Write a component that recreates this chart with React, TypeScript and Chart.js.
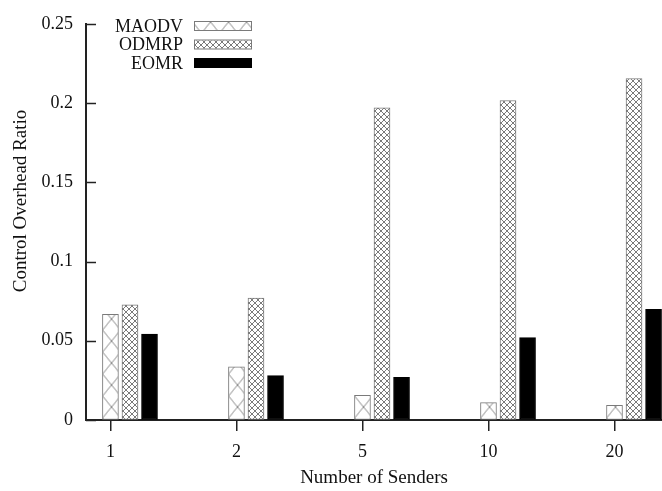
import React, { useEffect, useRef } from 'react';
import { Chart, registerables } from 'chart.js';

Chart.register(...registerables);

// ---- data ----
const categories = ['1', '2', '5', '10', '20'];
const seriesNames = ['MAODV', 'ODMRP', 'EOMR'];
const maodv = [0.0666, 0.0335, 0.0155, 0.011, 0.0093];
const odmrp = [0.0726, 0.077, 0.197, 0.2016, 0.2155];
const eomr = [0.0542, 0.028, 0.027, 0.052, 0.0699];
// each series is plotted slightly right of its category (gnuplot style x+offset)
const seriesShift = [0, 0.155, 0.31];
const yTickValues = [0, 0.05, 0.1, 0.15, 0.2, 0.25];
const xTitle = 'Number of Senders';
const yTitle = 'Control Overhead Ratio';

const FONT = "'Liberation Serif', 'DejaVu Serif', serif";
const AXIS = '#222';

function makePattern(kind: 'x' | 'hatch'): CanvasPattern | string {
  const c = document.createElement('canvas');
  const w = kind === 'x' ? 18 : 6;
  const h = kind === 'x' ? 22 : 6;
  c.width = w;
  c.height = h;
  const g = c.getContext('2d');
  if (!g) return '#fff';
  g.fillStyle = '#fff';
  g.fillRect(0, 0, w, h);
  g.strokeStyle = kind === 'x' ? '#8a8a8a' : '#7a7a7a';
  g.lineWidth = 1;
  g.beginPath();
  g.moveTo(0, 0);
  g.lineTo(w, h);
  g.moveTo(w, 0);
  g.lineTo(0, h);
  g.stroke();
  const p = g.createPattern(c, 'repeat');
  if (!p) return '#fff';
  if (kind === 'x' && typeof DOMMatrix !== 'undefined') {
    p.setTransform(new DOMMatrix().translate(102.5 % 18, 0));
  }
  return p;
}

const innerYTicks = {
  id: 'innerYTicks',
  afterDatasetsDraw(chart: any) {
    const { ctx, chartArea } = chart;
    const ys = chart.scales.y;
    ctx.save();
    ctx.strokeStyle = AXIS;
    ctx.lineWidth = 1.5;
    ys.ticks.forEach((t: any) => {
      const py = Math.round(ys.getPixelForValue(t.value)) + 0.5;
      ctx.beginPath();
      ctx.moveTo(chartArea.left, py);
      ctx.lineTo(chartArea.left + 10, py);
      ctx.stroke();
    });
    ctx.restore();
  },
};

const yTitlePlugin = {
  id: 'yTitlePlugin',
  afterDraw(chart: any) {
    const { ctx } = chart;
    ctx.save();
    ctx.translate(21, 201);
    ctx.rotate(-Math.PI / 2);
    ctx.font = `19px ${FONT}`;
    ctx.fillStyle = '#111';
    ctx.textAlign = 'center';
    ctx.textBaseline = 'middle';
    ctx.fillText(yTitle, 0, 0);
    ctx.restore();
  },
};

const keyLegend = {
  id: 'keyLegend',
  afterDraw(chart: any) {
    const { ctx } = chart;
    ctx.save();
    ctx.font = `18px ${FONT}`;
    ctx.textAlign = 'right';
    ctx.textBaseline = 'middle';
    chart.data.datasets.forEach((ds: any, i: number) => {
      const cy = 26 + i * 18.5;
      ctx.fillStyle = '#111';
      ctx.fillText(ds.label, 183, cy + 1);
      ctx.fillStyle = ds.backgroundColor;
      ctx.fillRect(194, cy - 4, 57, 8);
      ctx.strokeStyle = ds.borderColor;
      ctx.lineWidth = 1;
      ctx.strokeRect(194.5, cy - 4.5, 57, 9);
    });
    ctx.restore();
  },
};

export default function App() {
  const ref = useRef<HTMLCanvasElement | null>(null);

  useEffect(() => {
    document.body.style.margin = '0';
    const canvas = ref.current;
    if (!canvas) return;
    const values = [maodv, odmrp, eomr];
    const fills = [makePattern('x'), makePattern('hatch'), '#000'];
    const borders = ['#7a7a7a', '#7a7a7a', '#000'];

    const chart = new Chart(canvas, {
      type: 'bar',
      data: {
        datasets: seriesNames.map((name, s) => ({
          label: name,
          data: categories.map((_, i) => ({ x: i + seriesShift[s], y: values[s][i] })),
          backgroundColor: fills[s] as any,
          borderColor: borders[s],
          borderWidth: 1,
          borderSkipped: false,
          grouped: false,
          barThickness: 16,
        })),
      },
      plugins: [innerYTicks, keyLegend, yTitlePlugin],
      options: {
        responsive: false,
        animation: false,
        devicePixelRatio: 1,
        layout: { padding: { top: 17, right: 0, left: 0, bottom: 0 } },
        plugins: {
          legend: { display: false },
          tooltip: { enabled: false },
        },
        scales: {
          x: {
            type: 'linear',
            min: -0.194,
            max: 4.377,
            offset: false,
            afterBuildTicks: (scale: any) => {
              scale.ticks = categories.map((_, i) => ({ value: i }));
            },
            afterFit: (scale: any) => {
              scale.height = 71;
            },
            ticks: {
              autoSkip: false,
              maxRotation: 0,
              padding: 10,
              color: '#111',
              font: { family: FONT, size: 18 },
              callback: (v: any) => categories[Math.round(Number(v))],
            },
            grid: {
              offset: false,
              drawOnChartArea: false,
              drawTicks: true,
              tickLength: 11,
              color: AXIS,
              lineWidth: 1.5,
            },
            border: { display: true, color: AXIS, width: 2 },
            title: {
              display: true,
              text: xTitle,
              color: '#111',
              font: { family: FONT, size: 19 },
              padding: { top: 0, bottom: 2 },
            },
          },
          y: {
            type: 'linear',
            min: 0,
            max: 0.25,
            afterBuildTicks: (scale: any) => {
              scale.ticks = yTickValues.map((v) => ({ value: v }));
            },
            afterFit: (scale: any) => {
              scale.width = 86;
            },
            ticks: {
              padding: 13,
              color: '#111',
              font: { family: FONT, size: 18 },
              callback: (v: any) => String(v),
            },
            grid: {
              drawOnChartArea: false,
              drawTicks: false,
            },
            border: { display: true, color: AXIS, width: 2 },
            title: { display: false },
          },
        },
      },
    } as any);

    return () => chart.destroy();
  }, []);

  return (
    <canvas
      ref={ref}
      width={662}
      height={491}
      style={{ display: 'block', width: 662, height: 491 }}
    />
  );
}
